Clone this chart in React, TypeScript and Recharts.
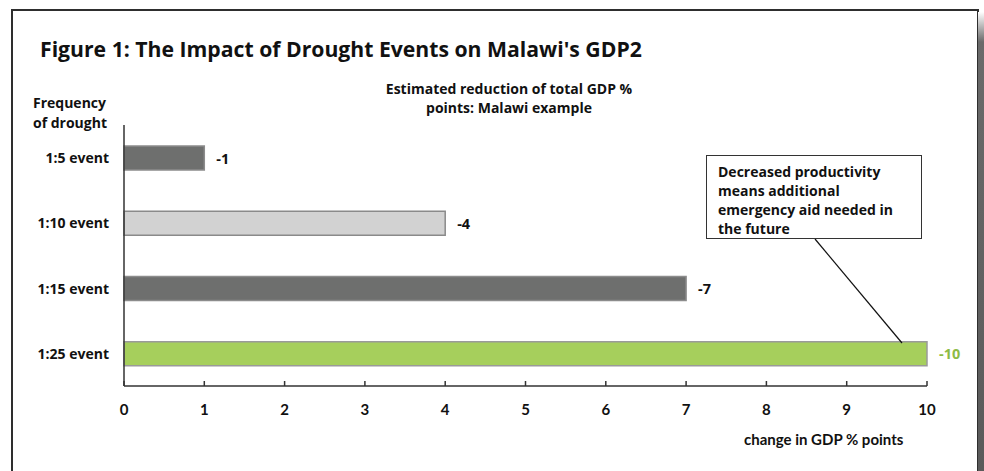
import React from "react";
import {
  BarChart,
  Bar,
  XAxis,
  YAxis,
  Cell,
  LabelList,
} from "recharts";

// frequency of drought events
const categories = ["1:5 event", "1:10 event", "1:15 event", "1:25 event"];
// estimated reduction of total GDP (% points)
const reduction = [1, 4, 7, 10];
const valueLabels = ["-1", "-4", "-7", "-10"];
const xTicks = [0, 1, 2, 3, 4, 5, 6, 7, 8, 9, 10];

const barFill = ["#6e6f6e", "#d2d2d2", "#6e6f6e", "#a6cf5c"];
const barStroke = ["#8c8c8c", "#8a8a8a", "#8c8c8c", "#9a9a9a"];
const labelFill = ["#111", "#111", "#111", "#8dbb45"];

const chartData = categories.map((name, i) => ({
  name,
  value: reduction[i],
  label: valueLabels[i],
}));

const FONT = "'Open Sans', Lato, sans-serif";
const NARROW = "'Liberation Sans Narrow', 'Arial Narrow', Lato, sans-serif";

const YTick = (props: any) => {
  const { x, y, payload } = props;
  return (
    <text
      x={x}
      y={y}
      textAnchor="end"
      dominantBaseline="central"
      fontFamily={FONT}
      fontWeight={700}
      fontSize={14}
      fill="#111"
    >
      {payload.value}
    </text>
  );
};

const XTick = (props: any) => {
  const { x, y, payload } = props;
  return (
    <text
      x={x}
      y={y + 34}
      textAnchor="middle"
      fontFamily={NARROW}
      fontWeight={700}
      fontSize={15}
      fill="#111"
    >
      {payload.value}
    </text>
  );
};

const ValueLabel = (props: any) => {
  const { x, y, width, height, value, index } = props;
  return (
    <text
      x={x + width + 12}
      y={y + height / 2}
      dominantBaseline="central"
      fontFamily={FONT}
      fontWeight={700}
      fontSize={14.5}
      fill={labelFill[index]}
    >
      {value}
    </text>
  );
};

export default function App() {
  return (
    <div
      style={{
        position: "absolute",
        left: 0,
        top: 0,
        width: 984,
        height: 471,
        overflow: "hidden",
        background: "#fff",
        fontFamily: FONT,
        color: "#111",
      }}
    >
      {/* frame */}
      <div
        style={{
          position: "absolute",
          left: 11,
          top: 9,
          width: 964,
          height: 500,
          border: "2px solid #2e2e2e",
        }}
      />
      <div
        style={{
          position: "absolute",
          left: 978,
          top: 12,
          width: 6,
          height: 460,
          background: "linear-gradient(to bottom, #fff 0px, #6a6a6a 30px, #5a5a5a 100%)",
        }}
      />

      <div
        style={{
          position: "absolute",
          left: 40,
          top: 34,
          fontSize: 21.2,
          fontWeight: 700,
          whiteSpace: "nowrap",
        }}
      >
        Figure 1: The Impact of Drought Events on Malawi's GDP2
      </div>

      <div
        style={{
          position: "absolute",
          left: 359,
          top: 79,
          width: 300,
          textAlign: "center",
          fontSize: 14,
          fontWeight: 700,
          lineHeight: "19px",
        }}
      >
        Estimated reduction of total GDP %
        <br />
        points: Malawi example
      </div>

      <div
        style={{
          position: "absolute",
          left: 33,
          top: 93,
          fontSize: 14,
          fontWeight: 700,
          lineHeight: "20px",
        }}
      >
        Frequency
        <br />
        of drought
      </div>

      <div style={{ position: "absolute", left: 0, top: 0 }}>
        <BarChart
          width={984}
          height={471}
          data={chartData}
          layout="vertical"
          margin={{ top: 125, right: 57, bottom: 55, left: 14 }}
        >
          <XAxis
            type="number"
            domain={[0, 10]}
            ticks={xTicks}
            interval={0}
            axisLine={{ stroke: "#333", strokeWidth: 1.5 }}
            tickLine={{ stroke: "#333", strokeWidth: 1.5 }}
            tickSize={-5}
            tickMargin={0}
            tick={<XTick />}
            height={30}
          />
          <YAxis
            type="category"
            dataKey="name"
            width={110}
            axisLine={{ stroke: "#333", strokeWidth: 1.5 }}
            tickLine={false}
            tickSize={0}
            tickMargin={15}
            tick={<YTick />}
          />
          <Bar dataKey="value" barSize={24} isAnimationActive={false}>
            {chartData.map((d, i) => (
              <Cell key={d.name} fill={barFill[i]} stroke={barStroke[i]} strokeWidth={1.5} />
            ))}
            <LabelList dataKey="label" content={<ValueLabel />} />
          </Bar>
        </BarChart>
      </div>

      {/* connector from annotation to the 1:25 bar */}
      <svg
        width={984}
        height={471}
        style={{ position: "absolute", left: 0, top: 0, pointerEvents: "none" }}
      >
        <line x1={815} y1={239} x2={902} y2={343} stroke="#111" strokeWidth={1.2} />
      </svg>

      <div
        style={{
          position: "absolute",
          left: 706,
          top: 155,
          width: 214,
          height: 82,
          border: "1.5px solid #333",
          background: "#fff",
          boxSizing: "content-box",
        }}
      />
      <div
        style={{
          position: "absolute",
          left: 718,
          top: 162,
          fontSize: 14,
          fontWeight: 700,
          lineHeight: "19px",
          whiteSpace: "nowrap",
        }}
      >
        Decreased productivity
        <br />
        means additional
        <br />
        emergency aid needed in
        <br />
        the future
      </div>

      <div
        style={{
          position: "absolute",
          left: 744,
          top: 430,
          fontFamily: NARROW,
          fontSize: 15,
          fontWeight: 700,
          whiteSpace: "nowrap",
        }}
      >
        change in GDP % points
      </div>
    </div>
  );
}
